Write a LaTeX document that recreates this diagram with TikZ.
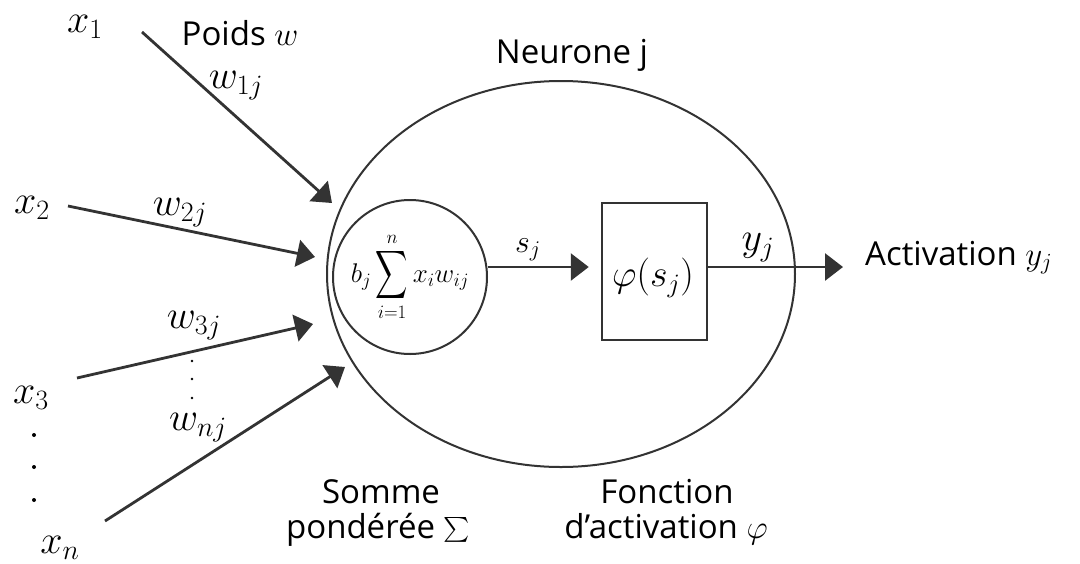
\documentclass[tikz,border=0pt]{standalone}
\usepackage{fix-cm}
\usepackage{exscale}
\usepackage{fontspec}
\setmainfont{Open Sans}
\usepackage{graphicx}
\usetikzlibrary{arrows.meta,shapes.geometric}
\definecolor{ln}{HTML}{333333}
\begin{document}
\begin{tikzpicture}[x=1pt,y=-1pt,
  txt/.style={inner sep=0pt, anchor=base, font=\fontsize{33}{40}\selectfont},
  mthx/.style={inner sep=0pt, anchor=base, font=\fontsize{40}{46}\selectfont},
  mthw/.style={inner sep=0pt, anchor=base, font=\fontsize{40}{46}\selectfont},
  arr/.style={draw=ln, line width=2.8pt, -{Triangle[length=18pt,width=27pt]}},
  shape line/.style={draw=ln, line width=2pt, inner sep=0pt}
]
\useasboundingbox (0,0) rectangle (1080,563);

% neuron
\node[shape line, ellipse, minimum width=468pt, minimum height=386pt] (neuron) at (561,274) {};
\node[shape line, circle, minimum size=154pt, font=\fontsize{27}{30}\selectfont] (sumc) at (410,277)
  {$\displaystyle b_j\mathop{\vcenter{\hbox{\scalebox{0.9}[1.35]{$\displaystyle\sum$}}}}\limits_{i=1}^{n} x_i w_{ij}$};
\node[shape line, line width=2.5pt, rectangle, minimum width=105pt, minimum height=137pt] (phi) at (654.5,271.5) {};
\node[inner sep=0pt, font=\fontsize{38}{44}\selectfont] (philab) at (653,278) {$\varphi(s_j)$};

% inputs
\node[mthx] (x1) at (85,32) {$x_1$};
\node[mthx] (x2) at (32,213) {$x_2$};
\node[mthx] (x3) at (31,403) {$x_3$};
\node[mthx] (xn) at (60,553) {$x_n$};
\fill (34,435) circle (2pt) (34,467) circle (2pt) (34,500) circle (2pt);
\fill (192,361) circle (1.3pt) (192,379) circle (1.3pt) (192,398) circle (1.3pt);

\node[txt] (poids) at (240,45) {Poids $w$};
\node[mthw] (w1) at (236,88) {$w_{1j}$};
\node[mthw] (w2) at (180,215) {$w_{2j}$};
\node[mthw] (w3) at (194,328) {$w_{3j}$};
\node[mthw] (wn) at (198,430) {$w_{nj}$};

\coordinate (s1) at (142,32);  \coordinate (t1) at (332,203);
\coordinate (s2) at (68,206);  \coordinate (t2) at (315,257);
\coordinate (s3) at (77,378);  \coordinate (t3) at (313,324);
\coordinate (s4) at (105,521); \coordinate (t4) at (345,367);
\draw[arr] (s1) -- (t1);
\draw[arr] (s2) -- (t2);
\draw[arr] (s3) -- (t3);
\draw[arr] (s4) -- (t4);

% internal connectors
\coordinate (sy) at (0,267);
\draw[arr, shorten >=12pt] (sumc.east |- sy) -- (phi.west |- sy);
\coordinate (yend) at (843,267);
\draw[arr] (phi.east |- sy) -- (yend);

\node[inner sep=0pt, anchor=base, font=\fontsize{32}{36}\selectfont] (sj) at (528,252) {$s_j$};
\node[mthw] (yj) at (758,250) {$y_j$};
\node[txt, anchor=base west] (act) at (865,265) {Activation $y_j$};

% titles
\node[txt] (neurtitle) at (572,63) {Neurone j};
\node[txt] (somme1) at (381,503) {Somme};
\node[txt] (somme2) at (378,538) {pondérée $\sum$};
\node[txt] (fonc1) at (667,503) {Fonction};
\node[txt] (fonc2) at (666,538) {d’activation $\varphi$};
\end{tikzpicture}
\end{document}
